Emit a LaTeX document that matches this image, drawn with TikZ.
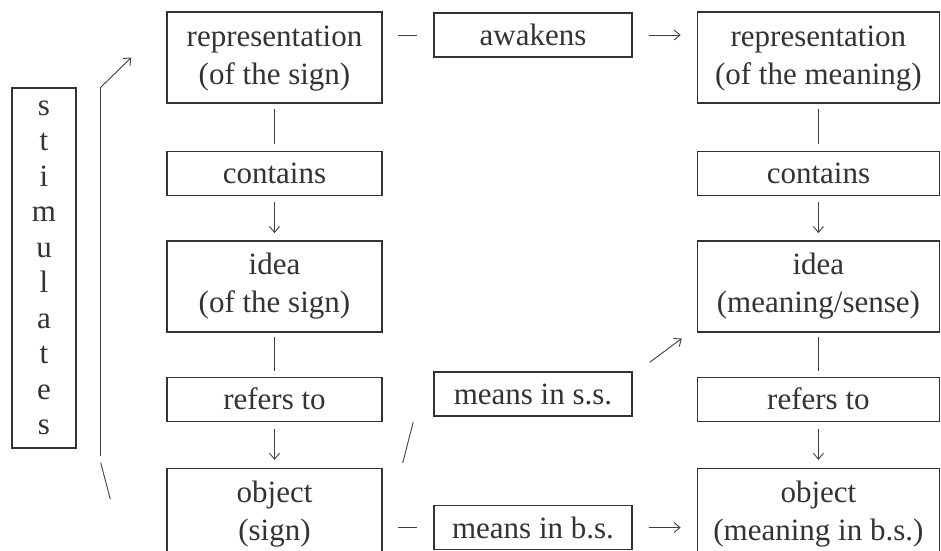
\documentclass[tikz,border=0pt]{standalone}
\usepackage{fontspec}
\setmainfont{Liberation Serif}
\usetikzlibrary{arrows.meta,positioning,calc}

\begin{document}
\begin{tikzpicture}[
	x=1pt, y=-1pt,
	node distance=44pt,
	>={Straight Barb[length=6pt,width=10pt]},
	font=\fontsize{31}{38}\selectfont,
	box/.style={
		rectangle,
		draw=black!80,
		text=black!80,
		line width=1.4pt,
		text centered,
		inner sep=0pt,
		minimum width=215pt,
		fill=white
	},
	tall/.style={
		minimum height=91pt
	},
	short/.style={
		minimum height=44pt
	},
	wide/.style={
		minimum width=242pt
	},
	mid/.style={
		minimum width=198pt
	},
	link/.style={
		draw=black!75,
		line width=0.9pt
	}
	]
	\useasboundingbox (0,0) rectangle (941,550);
	
	% We start by placing the blocks of the sign
	
	\node [box, tall] (rep1) at (274.5,57.5)
	{%
		\begin{tabular}{c}
		representation\\
		(of the sign)
		\end{tabular}
	};
	
	\node [box, short, below=47pt of rep1] (cont1) {contains};
	
	\node [box, tall, below=of cont1] (idea1)
	{%
		\begin{tabular}{c}
		idea\\
		(of the sign)
		\end{tabular}
	};
	
	\node [box, short, below=of idea1] (ref1) {refers to};
	
	\node [box, tall, below=46pt of ref1] (obj1)
	{%
		\begin{tabular}{c}
		object\\
		(sign)
		\end{tabular}
	};
	
	% then the blocks of the meaning
	
	\node [box, tall, wide, right=314pt of rep1] (rep2)
	{%
		\begin{tabular}{c}
		representation\\
		(of the meaning)
		\end{tabular}
	};
	
	\node [box, short, wide, below=47pt of rep2] (cont2) {contains};
	
	\node [box, tall, wide, below=of cont2] (idea2)
	{%
		\begin{tabular}{c}
		idea\\
		(meaning/sense)
		\end{tabular}
	};
	
	\node [box, short, wide, below=of idea2] (ref2) {refers to};
	
	\node [box, tall, wide, below=46pt of ref2] (obj2)
	{%
		\begin{tabular}{c}
		object\\
		(meaning in b.s.)
		\end{tabular}
	};
	
	% middle blocks
	
	\node [box, short, mid] (awk) at (533,35) {awakens};
	\node [box, short, mid] (mss) at (533,394) {means in s.s.};
	\node [box, short, mid] (mbs) at (533,527.5) {means in b.s.};
	
	\node [box, minimum width=64pt, minimum height=360pt,
		font=\fontsize{31}{35.5}\selectfont] (stim) at (44,268)
	{%
		\begin{tabular}{c}
		s\\ t\\ i\\ m\\ u\\ l\\ a\\ t\\ e\\ s
		\end{tabular}
	};
	
	\coordinate (bartop) at ($(stim.north east)+(24,0)$);
	\coordinate (barbot) at ($(stim.south east)+(24,7)$);
	\coordinate (uptip) at ($(rep1.west)+(-35,0)$);
	\coordinate (lowstart) at ($(barbot)+(0,7)$);
	\coordinate (lowend) at ($(obj1.west)+(-56,-15)$);
	
	% columns
	\draw [link, shorten <=5pt, shorten >=7pt] (rep1) -- (cont1);
	\draw [link, ->, shorten <=6pt, shorten >=7pt] (cont1) -- (idea1);
	\draw [link, shorten <=4pt, shorten >=6pt] (idea1) -- (ref1);
	\draw [link, ->, shorten <=7pt, shorten >=8pt] (ref1) -- (obj1);
	
	\draw [link, shorten <=5pt, shorten >=7pt] (rep2) -- (cont2);
	\draw [link, ->, shorten <=6pt, shorten >=7pt] (cont2) -- (idea2);
	\draw [link, shorten <=4pt, shorten >=6pt] (idea2) -- (ref2);
	\draw [link, ->, shorten <=7pt, shorten >=8pt] (ref2) -- (obj2);
	
	% across
	\draw [link, shorten <=15pt, shorten >=16pt] (rep1.east |- awk) -- (awk.west);
	\draw [link, ->, shorten <=16pt, shorten >=16pt] (awk.east) -- (awk.east -| rep2.west);
	\draw [link, shorten <=15pt, shorten >=16pt] (obj1.east |- mbs) -- (mbs.west);
	\draw [link, ->, shorten <=16pt, shorten >=16pt] (mbs.east) -- (mbs.east -| obj2.west);
	\draw [link] ($(obj1.north east)+(20,-5)$) -- ($(mss.south west)+(-20,5)$);
	\draw [link, ->] ($(mss.north east)+(17,-9)$) -- ($(idea2.south west)+(-15,6)$);
	
	% stimulates
	\draw [link] (bartop) -- (barbot);
	\draw [link, ->] (bartop) -- (uptip);
	\draw [link] (lowstart) -- (lowend);
	
\end{tikzpicture}
\end{document}
